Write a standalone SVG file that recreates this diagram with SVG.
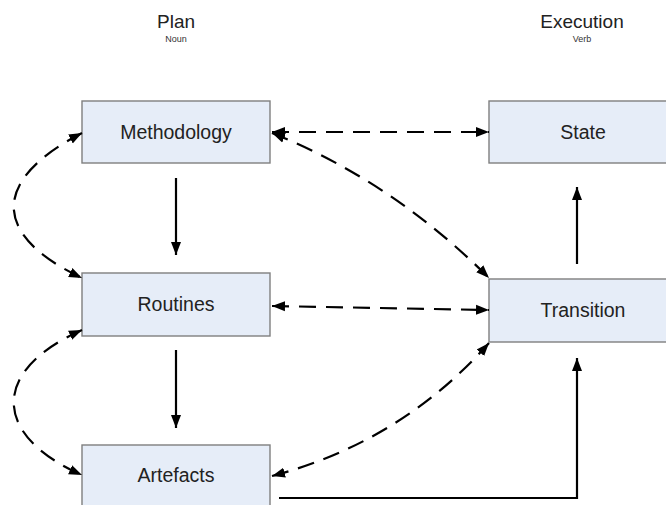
<svg xmlns="http://www.w3.org/2000/svg" width="666" height="505" viewBox="0 0 666 505">
<style>
.box{fill:#e6edf8;stroke:#7f7f7f;stroke-width:1.4}
.lbl{font-family:"Liberation Sans",Arial,sans-serif;font-size:19.5px;fill:#222;text-anchor:middle}
.ttl{font-family:"Liberation Sans",Arial,sans-serif;font-size:19px;fill:#222;text-anchor:middle}
.sub{font-family:"Liberation Sans",Arial,sans-serif;font-size:9px;fill:#333;text-anchor:middle}
.c{fill:none;stroke:#000;stroke-width:2.2}
.d{stroke-dasharray:17 10}
</style>
<defs>
<marker id="ah" markerUnits="userSpaceOnUse" markerWidth="14" markerHeight="12" viewBox="0 0 14 12" refX="13" refY="6" orient="auto-start-reverse">
<path d="M0,1 L13,6 L0,11 Z" fill="#000"/>
</marker>
</defs>
<g id="title-plan"><text class="ttl" x="176" y="28">Plan</text><text class="sub" x="176" y="42">Noun</text></g>
<g id="title-execution"><text class="ttl" x="582" y="28">Execution</text><text class="sub" x="582" y="42">Verb</text></g>
<g id="methodology"><rect class="box" x="82" y="101" width="188" height="62"/><text class="lbl" x="176" y="139">Methodology</text></g>
<g id="routines"><rect class="box" x="82" y="273" width="188" height="63"/><text class="lbl" x="176" y="311">Routines</text></g>
<g id="artefacts"><rect class="box" x="82" y="445" width="188" height="64"/><text class="lbl" x="176" y="482">Artefacts</text></g>
<g id="state"><rect class="box" x="489" y="101" width="190" height="62"/><text class="lbl" x="583" y="139">State</text></g>
<g id="transition"><rect class="box" x="489" y="279" width="190" height="63"/><text class="lbl" x="583" y="317">Transition</text></g>
<g id="connectors">
<path class="c" d="M176,178 V255" marker-end="url(#ah)"/>
<path class="c" d="M176,350 V428" marker-end="url(#ah)"/>
<path class="c" d="M577,264 V187" marker-end="url(#ah)"/>
<path class="c" d="M279,498 H577 V358" marker-end="url(#ah)"/>
<path class="c d" d="M272,132 H489" marker-start="url(#ah)" marker-end="url(#ah)"/>
<path class="c d" d="M272,133 Q392,181 489,278" marker-start="url(#ah)" marker-end="url(#ah)"/>
<path class="c d" d="M272,306 L489,310" marker-start="url(#ah)" marker-end="url(#ah)"/>
<path class="c d" d="M272,476 Q401,442 489,343" marker-start="url(#ah)" marker-end="url(#ah)"/>
<path class="c d" d="M82,133 C-9,180 -9,235 82,278" marker-start="url(#ah)" marker-end="url(#ah)"/>
<path class="c d" d="M82,330 C-9,370 -9,435 82,475" marker-start="url(#ah)" marker-end="url(#ah)"/>
</g>
</svg>
